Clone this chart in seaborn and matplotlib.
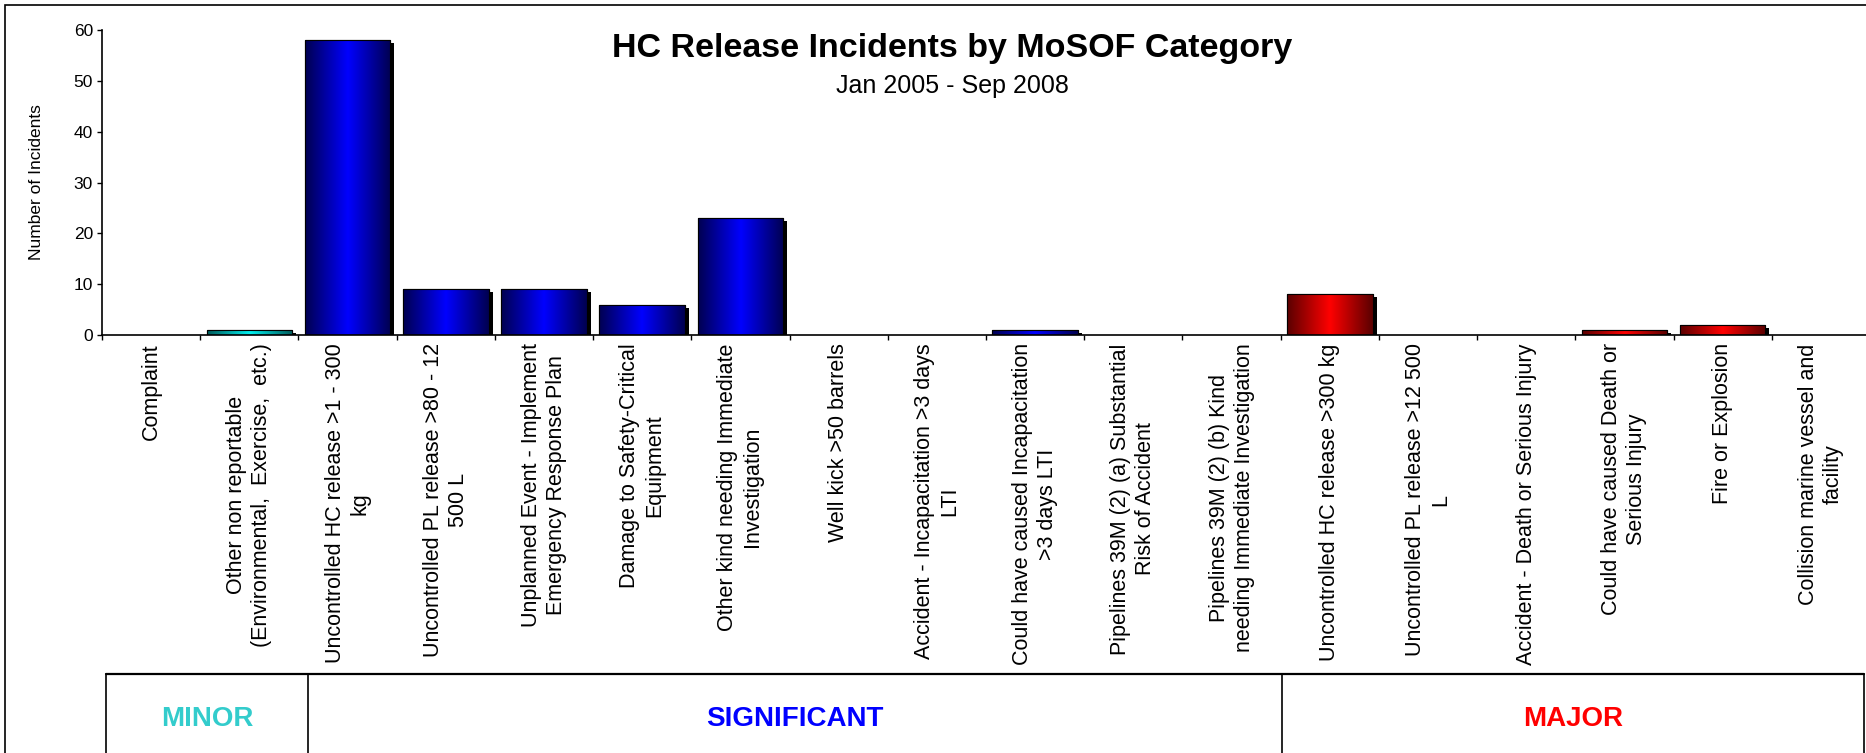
import numpy as np
import pandas as pd
import matplotlib
matplotlib.use("Agg")
import matplotlib.pyplot as plt
import matplotlib.patheffects as pe
from matplotlib.patches import Rectangle
from matplotlib.lines import Line2D
from matplotlib.colors import to_rgb
import seaborn as sns

# ---------------- data ----------------
categories = [
    "Complaint",
    "Other non reportable\n(Environmental,  Exercise,  etc.)",
    "Uncontrolled HC release >1 - 300\nkg",
    "Uncontrolled PL release >80 - 12\n500 L",
    "Unplanned Event - Implement\nEmergency Response Plan",
    "Damage to Safety-Critical\nEquipment",
    "Other kind needing Immediate\nInvestigation",
    "Well kick >50 barrels",
    "Accident - Incapacitation >3 days\nLTI",
    "Could have caused Incapacitation\n>3 days LTI",
    "Pipelines 39M (2) (a) Substantial\nRisk of Accident",
    "Pipelines 39M (2) (b) Kind\nneeding Immediate Investigation",
    "Uncontrolled HC release >300 kg",
    "Uncontrolled PL release >12 500\nL",
    "Accident - Death or Serious Injury",
    "Could have caused Death or\nSerious Injury",
    "Fire or Explosion",
    "Collision marine vessel and\nfacility",
]
counts = [0, 1, 58, 9, 9, 6, 23, 0, 0, 1, 0, 0, 8, 0, 0, 1, 2, 0]
severity = ["MINOR"] * 2 + ["SIGNIFICANT"] * 10 + ["MAJOR"] * 6
severity_levels = ["MINOR", "SIGNIFICANT", "MAJOR"]
y_ticks = [0, 10, 20, 30, 40, 50, 60]
title = "HC Release Incidents by MoSOF Category"
subtitle = "Jan 2005 - Sep 2008"
y_label = "Number of Incidents"

# ---------------- style ----------------
bright = {"MINOR": "#00F0F0", "SIGNIFICANT": "#0000FF", "MAJOR": "#FF0000"}
dark = {"MINOR": "#005A5A", "SIGNIFICANT": "#000050", "MAJOR": "#5A0000"}
label_color = {"MINOR": "#33CCCC", "SIGNIFICANT": "#0000FF", "MAJOR": "#FF0000"}

sns.set_style("ticks")
plt.rcParams["font.family"] = ["Liberation Sans", "DejaVu Sans"]
plt.rcParams.update({"text.color": "black", "axes.labelcolor": "black",
                     "xtick.color": "black", "ytick.color": "black"})

W, H = 1866, 753
fig = plt.figure(figsize=(W / 100, H / 100), dpi=100)
ax = fig.add_axes([102 / W, (H - 335) / H, 1768 / W, 305 / H])

df = pd.DataFrame({"category": categories, "count": counts, "severity": severity})
sns.barplot(data=df, x="category", y="count", hue="severity", hue_order=severity_levels,
            palette=bright, dodge=False, width=0.87, saturation=1, legend=False,
            edgecolor="black", linewidth=0.8, ax=ax)

t = np.linspace(0, 1, 256)
wgt = 1 - np.abs(2 * t - 1)
for p in list(ax.patches):
    x0 = p.get_x()
    idx = int(round(x0 + p.get_width() / 2))
    h = p.get_height()
    if h <= 0:
        p.set_visible(False)
        continue
    sev = severity[idx]
    c0 = np.array(to_rgb(dark[sev]))
    c1 = np.array(to_rgb(bright[sev]))
    img = c0[None, :] + (c1 - c0)[None, :] * wgt[:, None]
    z = p.get_zorder()
    p.set_path_effects([pe.SimplePatchShadow(offset=(2.9, -2.2), shadow_rgbFace="black", alpha=1.0),
                        pe.Normal()])
    im = ax.imshow(img[None, :, :], extent=[x0, x0 + p.get_width(), p.get_y(), p.get_y() + h],
                   aspect="auto", interpolation="bilinear", zorder=z + 0.1)
    im.set_clip_path(p)
    ax.add_patch(Rectangle((x0, p.get_y()), p.get_width(), h, fill=False,
                           edgecolor="black", linewidth=0.8, zorder=z + 0.2))

n = len(categories)
ax.set_xlim(-0.5, n - 0.5)
ax.set_ylim(y_ticks[0], y_ticks[-1])
ax.set_aspect("auto")

ax.set_yticks(y_ticks)
ax.tick_params(axis="y", length=3.5, width=1, direction="out", labelsize=12.5, pad=3)
ax.set_xticks(range(n))
ax.set_xticklabels(categories, rotation=90, fontsize=15.5, va="top", ha="center",
                   multialignment="center", linespacing=1.25)
ax.tick_params(axis="x", which="major", length=0, pad=6)
ax.set_xticks(np.arange(-0.5, n, 1), minor=True)
ax.tick_params(axis="x", which="minor", length=3.6, width=1, direction="out", bottom=True)

for s in ["top", "right"]:
    ax.spines[s].set_visible(False)
for s in ["left", "bottom"]:
    ax.spines[s].set_color("black")
    ax.spines[s].set_linewidth(1.2)

ax.set_xlabel("")
ax.set_ylabel(y_label, fontsize=12.5)
ax.yaxis.set_label_coords(-0.033, 0.5)

fig.text(952 / W, 1 - 48 / H, title, ha="center", va="center", fontsize=24.5, fontweight="bold")
fig.text(952 / W, 1 - 86 / H, subtitle, ha="center", va="center", fontsize=18)

# severity band below the chart
top_y = (H - 674) / H
xs_band = [106 / W, 308 / W, 1282 / W, 1864 / W]
fig.add_artist(Line2D([xs_band[0], xs_band[-1]], [top_y, top_y], color="black", lw=1.6,
                      transform=fig.transFigure))
for xv in xs_band:
    fig.add_artist(Line2D([xv, xv], [0, top_y], color="black", lw=1.2, transform=fig.transFigure))
for i, lev in enumerate(severity_levels):
    cx = (xs_band[i] + xs_band[i + 1]) / 2
    fig.text(cx, 34 / H, lev, ha="center", va="center", fontsize=20, fontweight="bold",
             color=label_color[lev])

# outer chart border
fig.add_artist(Rectangle((5 / W, -0.1), 2, 1.1 - 5 / H, transform=fig.transFigure,
                         fill=False, edgecolor="black", lw=1.2))

fig.savefig("out.png", dpi=100)
